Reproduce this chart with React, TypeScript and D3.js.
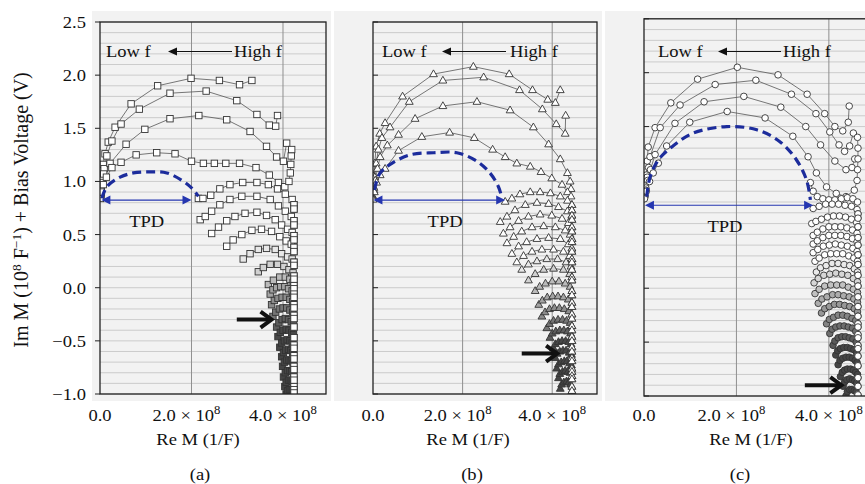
import React from 'react';
import * as d3 from 'd3';

type Pt = [number, number];

// Re M in units of 1e8 1/F, Im M (1e8 1/F) + bias in V

// ---------- panel (a), square markers ----------
const aUpper: Pt[][] = [
  [[0.02,0.88],[0.03,0.97],[0.04,1.06],[0.07,1.16],[0.11,1.26],[0.18,1.37],[0.33,1.51],[0.68,1.73],[1.26,1.90],[1.99,1.97],[2.61,1.95],[3.05,1.91],[3.32,1.95]],
  [[0.02,0.86],[0.03,0.94],[0.05,1.02],[0.09,1.12],[0.15,1.24],[0.26,1.38],[0.46,1.54],[0.86,1.68],[1.53,1.83],[2.32,1.85],[2.99,1.76],[3.43,1.63],[3.70,1.53],[3.84,1.52],[3.88,1.62]],
  [[0.01,0.85],[0.02,0.92],[0.04,0.99],[0.08,1.07],[0.22,1.17],[0.57,1.35],[0.98,1.49],[1.53,1.59],[2.16,1.62],[2.77,1.58],[3.28,1.47],[3.64,1.33],[3.86,1.23],[4.01,1.19],[4.08,1.36]],
  [[0.01,0.84],[0.03,0.90],[0.07,0.97],[0.14,1.04],[0.26,1.13],[0.46,1.18],[0.79,1.25],[1.24,1.27],[1.64,1.26],[2.0,1.19],[2.26,1.17],[2.5,1.17],[2.75,1.17],[3.05,1.17],[3.41,1.13],[3.70,1.06],[3.90,0.99],[4.04,0.95],[4.13,1.0],[4.16,1.08],[4.17,1.16],[4.18,1.24],[4.19,1.30]],
];
const aLower: Pt[][] = [
  [[2.15,0.84],[2.25,0.84],[2.42,0.87],[2.62,0.93],[2.84,0.97],[3.12,0.99],[3.43,0.99],[3.68,0.97],[3.88,0.93],[4.05,0.88],[4.2,0.83],[4.24,0.78],[4.24,0.74]],
  [[2.19,0.64],[2.30,0.67],[2.44,0.72],[2.62,0.78],[2.84,0.83],[3.10,0.86],[3.43,0.86],[3.72,0.83],[3.90,0.77],[4.05,0.72],[4.18,0.67],[4.24,0.63],[4.24,0.59]],
  [[2.44,0.51],[2.59,0.57],[2.77,0.63],[2.95,0.67],[3.17,0.70],[3.43,0.71],[3.64,0.68],[3.83,0.64],[3.97,0.59],[4.1,0.55],[4.2,0.52],[4.24,0.49],[4.24,0.45]],
  [[2.77,0.39],[2.91,0.45],[3.10,0.50],[3.32,0.54],[3.53,0.55],[3.75,0.53],[3.93,0.48],[4.07,0.44],[4.18,0.41],[4.24,0.38],[4.24,0.34]],
  [[3.13,0.27],[3.28,0.32],[3.46,0.36],[3.64,0.37],[3.83,0.36],[3.97,0.32],[4.1,0.29],[4.2,0.27],[4.24,0.24],[4.24,0.21]],
  [[3.46,0.15],[3.57,0.19],[3.72,0.22],[3.88,0.22],[4.02,0.20],[4.13,0.17],[4.22,0.14],[4.24,0.11],[4.24,0.08]],
  [[3.68,0.03],[3.79,0.07],[3.93,0.10],[4.05,0.10],[4.15,0.08],[4.22,0.05],[4.24,0.02],[4.24,-0.01]],
  [[3.72,-0.06],[3.78,-0.02],[3.86,0.00],[3.95,0.01],[4.04,0.01],[4.12,-0.01],[4.2,-0.03],[4.24,-0.06],[4.24,-0.09]],
  [[3.75,-0.16],[3.81,-0.12],[3.89,-0.10],[3.98,-0.09],[4.07,-0.09],[4.15,-0.11],[4.21,-0.13],[4.24,-0.16],[4.24,-0.19]],
  [[3.78,-0.27],[3.84,-0.23],[3.92,-0.20],[4.0,-0.19],[4.08,-0.19],[4.15,-0.21],[4.21,-0.23],[4.24,-0.26],[4.24,-0.29]],
  [[3.86,-0.37],[3.91,-0.33],[3.98,-0.30],[4.05,-0.29],[4.12,-0.30],[4.18,-0.32],[4.23,-0.34],[4.24,-0.37]],
  [[3.89,-0.46],[3.94,-0.42],[4.0,-0.40],[4.07,-0.39],[4.13,-0.40],[4.19,-0.42],[4.23,-0.44],[4.24,-0.47]],
  [[3.93,-0.56],[3.97,-0.52],[4.03,-0.50],[4.09,-0.49],[4.15,-0.50],[4.2,-0.52],[4.24,-0.54],[4.24,-0.57]],
  [[3.97,-0.65],[4.01,-0.61],[4.06,-0.59],[4.12,-0.58],[4.17,-0.59],[4.21,-0.61],[4.24,-0.64],[4.24,-0.67]],
  [[3.99,-0.74],[4.03,-0.70],[4.08,-0.68],[4.13,-0.68],[4.18,-0.69],[4.22,-0.71],[4.24,-0.74],[4.24,-0.77]],
  [[4.01,-0.84],[4.05,-0.80],[4.1,-0.78],[4.15,-0.78],[4.19,-0.79],[4.23,-0.81],[4.24,-0.84],[4.24,-0.87]],
  [[4.04,-0.93],[4.07,-0.89],[4.12,-0.87],[4.16,-0.87],[4.2,-0.88],[4.23,-0.90],[4.24,-0.93],[4.24,-0.96]],
  [[4.07,-1.0],[4.1,-0.97],[4.14,-0.96],[4.18,-0.96],[4.22,-0.97],[4.24,-0.99]],
];
const aTpdArc: Pt[] = [[0.04,0.84],[0.15,0.95],[0.44,1.04],[0.73,1.08],[1.09,1.09],[1.46,1.08],[1.79,1.01],[2.0,0.94],[2.15,0.86]];
const aTpdSpan = [0.03, 2.0, 0.825];

// ---------- panel (b), triangle markers ----------
const bUpper: Pt[][] = [
  [[0.0,0.86],[0.01,0.95],[0.02,1.05],[0.04,1.17],[0.07,1.33],[0.15,1.45],[0.27,1.55],[0.66,1.80],[1.35,2.01],[2.24,2.08],[3.04,2.01],[3.56,1.86],[3.90,1.77],[4.07,1.74],[4.18,1.86]],
  [[0.0,0.85],[0.02,0.94],[0.04,1.04],[0.07,1.17],[0.12,1.30],[0.2,1.41],[0.38,1.51],[0.81,1.75],[1.56,1.95],[2.47,1.98],[3.27,1.86],[3.78,1.68],[4.09,1.54],[4.29,1.45],[4.30,1.62]],
  [[0.0,0.84],[0.02,0.92],[0.05,1.01],[0.1,1.12],[0.16,1.23],[0.32,1.34],[0.57,1.44],[0.94,1.59],[1.56,1.71],[2.32,1.75],[3.06,1.67],[3.58,1.51],[3.92,1.35],[4.18,1.21],[4.34,1.08],[4.4,1.0],[4.42,0.93]],
  [[0.0,0.83],[0.03,0.90],[0.08,0.99],[0.16,1.06],[0.27,1.12],[0.57,1.29],[1.09,1.42],[1.71,1.46],[2.26,1.41],[2.67,1.30],[2.95,1.23],[3.21,1.17],[3.51,1.14],[3.75,1.09],[3.99,1.03],[4.22,0.97],[4.34,0.90],[4.42,0.86]],
];
const bLower: Pt[][] = [
  [[2.95,0.81],[3.10,0.84],[3.28,0.88],[3.51,0.90],[3.73,0.90],[3.96,0.89],[4.18,0.86],[4.34,0.82],[4.44,0.78],[4.44,0.73]],
  [[2.84,0.62],[2.99,0.67],[3.17,0.73],[3.40,0.78],[3.66,0.80],[3.92,0.79],[4.14,0.76],[4.34,0.72],[4.44,0.68],[4.44,0.64]],
  [[2.91,0.51],[3.06,0.57],[3.25,0.63],[3.47,0.67],[3.73,0.69],[3.99,0.68],[4.22,0.65],[4.36,0.61],[4.44,0.57],[4.44,0.53]],
  [[2.99,0.42],[3.14,0.48],[3.32,0.53],[3.55,0.57],[3.81,0.58],[4.07,0.57],[4.29,0.54],[4.40,0.50],[4.44,0.46],[4.44,0.43]],
  [[3.10,0.32],[3.25,0.39],[3.43,0.43],[3.66,0.46],[3.92,0.47],[4.18,0.46],[4.36,0.41],[4.44,0.37],[4.44,0.34]],
  [[3.21,0.24],[3.36,0.30],[3.55,0.34],[3.77,0.36],[4.03,0.36],[4.25,0.34],[4.39,0.30],[4.44,0.27],[4.44,0.24]],
  [[3.32,0.17],[3.47,0.22],[3.66,0.25],[3.88,0.27],[4.12,0.27],[4.31,0.24],[4.42,0.20],[4.44,0.17]],
  [[3.47,0.07],[3.62,0.13],[3.81,0.17],[4.03,0.18],[4.25,0.17],[4.39,0.13],[4.44,0.10],[4.44,0.07]],
  [[3.62,-0.03],[3.72,0.01],[3.85,0.04],[4.0,0.06],[4.15,0.06],[4.29,0.04],[4.40,0.01],[4.44,-0.03],[4.44,-0.07]],
  [[3.70,-0.16],[3.78,-0.12],[3.89,-0.09],[4.01,-0.08],[4.13,-0.08],[4.25,-0.09],[4.36,-0.11],[4.44,-0.14],[4.44,-0.18]],
  [[3.77,-0.27],[3.84,-0.23],[3.94,-0.20],[4.05,-0.19],[4.16,-0.19],[4.27,-0.20],[4.37,-0.22],[4.44,-0.25],[4.44,-0.29]],
  [[3.88,-0.38],[3.94,-0.34],[4.03,-0.31],[4.13,-0.30],[4.23,-0.30],[4.32,-0.31],[4.40,-0.33],[4.44,-0.36],[4.44,-0.40]],
  [[3.95,-0.47],[4.0,-0.43],[4.08,-0.41],[4.17,-0.40],[4.26,-0.40],[4.34,-0.41],[4.41,-0.43],[4.44,-0.46],[4.44,-0.50]],
  [[4.03,-0.57],[4.07,-0.53],[4.14,-0.51],[4.22,-0.50],[4.30,-0.50],[4.37,-0.51],[4.42,-0.53],[4.44,-0.56],[4.44,-0.60]],
  [[4.07,-0.66],[4.11,-0.62],[4.17,-0.60],[4.24,-0.59],[4.31,-0.59],[4.38,-0.61],[4.43,-0.63],[4.44,-0.66],[4.44,-0.69]],
  [[4.10,-0.76],[4.14,-0.72],[4.20,-0.70],[4.27,-0.69],[4.33,-0.69],[4.39,-0.71],[4.43,-0.73],[4.44,-0.76],[4.44,-0.79]],
  [[4.14,-0.85],[4.17,-0.81],[4.23,-0.79],[4.29,-0.78],[4.35,-0.79],[4.40,-0.80],[4.44,-0.83],[4.44,-0.86]],
  [[4.18,-0.95],[4.21,-0.91],[4.26,-0.89],[4.32,-0.88],[4.37,-0.89],[4.41,-0.91],[4.44,-0.93],[4.44,-0.97]],
];
const bTpdArc: Pt[] = [[0.03,0.92],[0.16,1.08],[0.42,1.17],[0.83,1.25],[1.35,1.27],[1.87,1.27],[2.32,1.19],[2.61,1.08],[2.80,0.95],[2.88,0.84]];
const bTpdSpan = [0.01, 2.95, 0.825];

// ---------- panel (c), circle markers ----------
const cUpper: Pt[][] = [
  [[0.02,0.86],[0.03,0.95],[0.05,1.05],[0.07,1.18],[0.09,1.31],[0.24,1.49],[0.58,1.72],[1.16,1.94],[2.02,2.05],[2.90,1.98],[3.53,1.80],[3.91,1.62],[4.13,1.50],[4.30,1.46],[4.42,1.54],[4.44,1.69]],
  [[0.02,0.85],[0.04,0.93],[0.07,1.03],[0.1,1.12],[0.13,1.22],[0.35,1.49],[0.78,1.70],[1.54,1.89],[2.42,1.93],[3.19,1.80],[3.72,1.62],[4.02,1.45],[4.22,1.33],[4.34,1.27],[4.45,1.32],[4.53,1.44]],
  [[0.01,0.84],[0.04,0.91],[0.08,1.0],[0.14,1.1],[0.24,1.24],[0.67,1.53],[1.30,1.73],[2.16,1.78],[2.96,1.68],[3.50,1.50],[3.82,1.33],[4.13,1.18],[4.37,1.10],[4.5,1.12],[4.56,1.2]],
  [[0.01,0.83],[0.05,0.9],[0.12,0.99],[0.2,1.07],[0.31,1.16],[0.49,1.32],[0.99,1.54],[1.80,1.64],[2.62,1.58],[3.22,1.41],[3.55,1.22],[3.73,1.07],[3.95,0.94],[4.16,0.88],[4.37,0.85],[4.55,0.91],[4.61,1.0],[4.62,1.1],[4.63,1.2],[4.63,1.3],[4.62,1.4]],
];
const cLower: Pt[][] = [
  [[3.60,0.98],[3.66,0.90],[3.75,0.85],[3.87,0.83],[4.0,0.82],[4.13,0.82],[4.27,0.83],[4.40,0.84],[4.52,0.83],[4.62,0.80]],
  [[3.66,0.74],[3.79,0.76],[3.93,0.78],[4.07,0.78],[4.21,0.78],[4.35,0.77],[4.49,0.76],[4.61,0.73],[4.63,0.69],[4.63,0.65]],
  [[3.63,0.60],[3.72,0.62],[3.84,0.64],[3.97,0.66],[4.10,0.67],[4.23,0.67],[4.36,0.66],[4.49,0.64],[4.6,0.61],[4.63,0.57]],
  [[3.66,0.49],[3.75,0.52],[3.87,0.55],[4.0,0.57],[4.13,0.57],[4.26,0.57],[4.39,0.56],[4.51,0.54],[4.61,0.51],[4.63,0.47]],
  [[3.66,0.41],[3.75,0.44],[3.87,0.47],[4.0,0.49],[4.13,0.49],[4.26,0.49],[4.39,0.48],[4.51,0.46],[4.61,0.43],[4.63,0.40]],
  [[3.66,0.33],[3.76,0.36],[3.88,0.39],[4.01,0.40],[4.14,0.41],[4.27,0.40],[4.4,0.39],[4.52,0.37],[4.61,0.34],[4.63,0.31]],
  [[3.70,0.25],[3.79,0.28],[3.91,0.31],[4.04,0.32],[4.17,0.32],[4.3,0.32],[4.43,0.30],[4.54,0.28],[4.62,0.25],[4.63,0.22]],
  [[3.73,0.15],[3.82,0.19],[3.94,0.21],[4.07,0.23],[4.2,0.23],[4.33,0.22],[4.45,0.21],[4.55,0.18],[4.62,0.15],[4.63,0.12]],
  [[3.68,0.05],[3.77,0.09],[3.89,0.12],[4.02,0.13],[4.15,0.14],[4.28,0.13],[4.41,0.12],[4.53,0.09],[4.62,0.06],[4.63,0.02]],
  [[3.70,-0.05],[3.79,-0.01],[3.91,0.02],[4.04,0.03],[4.17,0.03],[4.30,0.03],[4.42,0.01],[4.53,-0.01],[4.62,-0.04],[4.63,-0.08]],
  [[3.77,-0.14],[3.85,-0.10],[3.96,-0.08],[4.08,-0.06],[4.2,-0.06],[4.32,-0.07],[4.44,-0.08],[4.54,-0.10],[4.62,-0.13],[4.63,-0.17]],
  [[3.84,-0.23],[3.91,-0.19],[4.01,-0.17],[4.12,-0.15],[4.23,-0.15],[4.34,-0.16],[4.45,-0.17],[4.55,-0.19],[4.62,-0.22],[4.63,-0.26]],
  [[3.95,-0.33],[4.01,-0.29],[4.10,-0.27],[4.20,-0.25],[4.30,-0.25],[4.40,-0.26],[4.50,-0.28],[4.58,-0.30],[4.63,-0.33],[4.63,-0.36]],
  [[4.02,-0.42],[4.07,-0.38],[4.15,-0.36],[4.24,-0.35],[4.33,-0.35],[4.42,-0.36],[4.51,-0.37],[4.58,-0.40],[4.63,-0.43],[4.63,-0.46]],
  [[4.09,-0.53],[4.13,-0.49],[4.20,-0.46],[4.28,-0.45],[4.36,-0.45],[4.44,-0.46],[4.52,-0.47],[4.59,-0.50],[4.63,-0.53],[4.63,-0.56]],
  [[4.15,-0.62],[4.19,-0.58],[4.25,-0.56],[4.32,-0.55],[4.40,-0.55],[4.47,-0.56],[4.54,-0.57],[4.6,-0.60],[4.63,-0.63]],
  [[4.20,-0.71],[4.24,-0.67],[4.30,-0.65],[4.37,-0.64],[4.44,-0.64],[4.51,-0.65],[4.57,-0.67],[4.61,-0.69],[4.63,-0.72]],
  [[4.25,-0.82],[4.29,-0.78],[4.34,-0.76],[4.40,-0.75],[4.47,-0.75],[4.53,-0.76],[4.58,-0.78],[4.62,-0.80],[4.63,-0.83]],
  [[4.31,-0.91],[4.34,-0.87],[4.39,-0.85],[4.45,-0.84],[4.51,-0.85],[4.56,-0.86],[4.6,-0.88],[4.63,-0.91]],
  [[4.37,-1.0],[4.40,-0.96],[4.45,-0.94],[4.50,-0.94],[4.55,-0.95],[4.59,-0.96],[4.63,-0.99]],
];
const cTpdArc: Pt[] = [[0.06,0.85],[0.13,1.03],[0.31,1.19],[0.60,1.31],[1.07,1.44],[1.79,1.50],[2.44,1.47],[2.94,1.36],[3.30,1.19],[3.52,1.00],[3.60,0.82]];
const cTpdSpan = [0.02, 3.66, 0.77];

// ---------- axes ----------
const yTicks = [-1, -0.5, 0, 0.5, 1, 1.5, 2, 2.5];
const yTickLabels = ['−1.0', '−0.5', '0.0', '0.5', '1.0', '1.5', '2.0', '2.5'];
const xTicks = [0, 2, 4];
const xTickLabels = ['0.0', '2.0 × 10', '4.0 × 10'];

const SERIF = 'Liberation Serif';
const BLUE = '#1c2c9c';

const Txt = ({ x, y, anchor = 'start', size = 17.5, children }: any) => (
  <text transform={`translate(${x},${y}) scale(1.06,1)`} textAnchor={anchor}
    fontSize={size} fontFamily={SERIF} fill="#111">{children}</text>
);

const Marker = ({ kind, x, y, fill }: any) => {
  if (kind === 'square') return <rect x={x - 3.2} y={y - 3.2} width={6.4} height={6.4} fill={fill} stroke="#333" strokeWidth={0.9} />;
  if (kind === 'triangle') return <path d={`M${x},${y - 4.2}L${x + 3.9},${y + 2.6}L${x - 3.9},${y + 2.6}Z`} fill={fill} stroke="#333" strokeWidth={0.9} />;
  return <circle cx={x} cy={y} r={3.3} fill={fill} stroke="#333" strokeWidth={0.9} />;
};

const Panel = ({ cfg, upper, lower, tpdArc, tpdSpan, kind, showY }: any) => {
  const x = d3.scaleLinear().domain([0, cfg.xMax]).range([cfg.left, cfg.right]);
  const y = d3.scaleLinear().domain([-1, 2.5]).range([cfg.bottom, cfg.top]);
  const line = d3.line<Pt>().x((d) => x(d[0])).y((d) => y(d[1]));
  const smooth = d3.line<Pt>().x((d) => x(d[0])).y((d) => y(d[1])).curve(d3.curveCatmullRom);
  const grid = y.ticks(35);
  const clipId = `clip-${cfg.id}`;
  const n = lower.length;
  const shade = (i: number) => {
    const t = Math.max(0, Math.min(1, (i - cfg.lightArcs) / (n * 0.45)));
    return d3.interpolateRgb('#ffffff', '#454545')(t);
  };
  const isCol = (p: Pt) => p[0] >= cfg.col - 0.005;
  const ty = y(tpdSpan[2]);
  const tx1 = x(tpdSpan[0]);
  const tx2 = x(tpdSpan[1]);
  const ar = cfg.arrow;
  const ay = y(ar[2]);
  const ax1 = x(ar[0]);
  const ax2 = x(ar[1]);
  return (
    <g>
      <defs>
        <clipPath id={clipId}>
          <rect x={cfg.left} y={cfg.top} width={cfg.right - cfg.left} height={cfg.bottom - cfg.top} />
        </clipPath>
      </defs>
      <rect x={cfg.bg[0]} y={11} width={cfg.bg[1] - cfg.bg[0]} height={390} fill="#f2f2f2" />
      {grid.map((g) => (
        <line key={g} x1={cfg.left} x2={cfg.right} y1={y(g)} y2={y(g)} stroke="#c2c2c2" strokeWidth={0.8} />
      ))}
      {xTicks.slice(1).map((t) => (
        <line key={t} x1={x(t)} x2={x(t)} y1={cfg.top} y2={cfg.bottom} stroke="#8f8f8f" strokeWidth={1} />
      ))}
      {yTicks.map((t) => (
        <line key={t} x1={showY ? cfg.left - 5 : cfg.left} x2={showY ? cfg.left : cfg.left + 5} y1={y(t)} y2={y(t)} stroke="#222" strokeWidth={1} />
      ))}
      <g clipPath={`url(#${clipId})`}>
        {upper.map((arc: Pt[], i: number) => (
          <path key={i} d={line(arc) || ''} fill="none" stroke="#555" strokeWidth={0.8} />
        ))}
        {upper.map((arc: Pt[], i: number) => arc.map((p, j) => (
          <Marker key={`u${i}-${j}`} kind={kind} x={x(p[0])} y={y(p[1])} fill="#fff" />
        )))}
        {lower.map((arc: Pt[], i: number) => (
          <g key={`l${i}`}>
            <path d={line(arc) || ''} fill="none" stroke="#444" strokeWidth={0.8} />
            {arc.map((p, j) => (
              <Marker key={j} kind={kind} x={x(p[0])} y={y(p[1])} fill={isCol(p) ? '#fff' : shade(i)} />
            ))}
          </g>
        ))}
        {lower.map((arc: Pt[], i: number) => arc.filter(isCol).map((p, j) => (
          <Marker key={`c${i}-${j}`} kind={kind} x={x(p[0])} y={y(p[1])} fill="#fff" />
        )))}
        <path d={smooth(tpdArc) || ''} fill="none" stroke={BLUE} strokeWidth={3.2} strokeDasharray="9,5" />
        <line x1={tx1 + 6} x2={tx2 - 6} y1={ty} y2={ty} stroke="#2536b0" strokeWidth={1.2} />
        <path d={`M${tx1},${ty}L${tx1 + 9},${ty - 4.5}L${tx1 + 9},${ty + 4.5}Z`} fill="#2536b0" />
        <path d={`M${tx2},${ty}L${tx2 - 9},${ty - 4.5}L${tx2 - 9},${ty + 4.5}Z`} fill="#2536b0" />
      </g>
      <rect x={cfg.left} y={cfg.top} width={cfg.right - cfg.left} height={cfg.bottom - cfg.top} fill="none" stroke="#222" strokeWidth={1.3} />
      {/* Low f <- High f */}
      <Txt x={cfg.lowF} y={57}>Low f</Txt>
      <line x1={cfg.fArrow[0]} x2={cfg.fArrow[1] + 6} y1={51.5} y2={51.5} stroke="#111" strokeWidth={1.2} />
      <path d={`M${cfg.fArrow[1]},51.5L${cfg.fArrow[1] + 9},47.5L${cfg.fArrow[1] + 9},55.5Z`} fill="#111" />
      <Txt x={cfg.highF} y={57}>High f</Txt>
      <Txt x={x(cfg.tpdLabel[0])} y={y(cfg.tpdLabel[1])} anchor="middle">TPD</Txt>
      {/* bold arrow */}
      <line x1={ax1} x2={ax2 - 3} y1={ay} y2={ay} stroke="#111" strokeWidth={4} />
      <polyline points={`${ax2 - 11},${ay - 8} ${ax2},${ay} ${ax2 - 11},${ay + 8}`} fill="none" stroke="#111" strokeWidth={4} strokeLinejoin="miter" />
      {/* axes labels */}
      {showY && yTicks.map((t, i) => (
        <Txt key={t} x={86} y={y(t) + 6} anchor="end">{yTickLabels[i]}</Txt>
      ))}
      {xTicks.map((t, i) => (
        <Txt key={t} x={x(t) + (i === 1 ? -5 : 0)} y={421} anchor="middle">
          {xTickLabels[i]}
          {i > 0 && <tspan dy={-7} fontSize={12}>8</tspan>}
        </Txt>
      ))}
      <Txt x={cfg.titleX} y={445} anchor="middle">Re M (1/F)</Txt>
      <Txt x={cfg.capX} y={480} anchor="middle">{cfg.caption}</Txt>
    </g>
  );
};

const panelA = { id: 'a', left: 100, right: 326, xMax: 4.94, top: 22, bottom: 394, bg: [92, 331], col: 4.24, lightArcs: 3,
  lowF: 106, fArrow: [232, 168], highF: 234, tpdLabel: [1.02, 0.57], arrow: [2.99, 3.75, -0.30], titleX: 198, capX: 200, caption: '(a)' };
const panelB = { id: 'b', left: 373, right: 597, xMax: 5.0, top: 22, bottom: 394, bg: [334, 602], col: 4.44, lightArcs: 5,
  lowF: 382, fArrow: [506, 442], highF: 510, tpdLabel: [1.61, 0.57], arrow: [3.32, 4.11, -0.62], titleX: 468, capX: 472, caption: '(b)' };
const panelC = { id: 'c', left: 644, right: 870, xMax: 4.89, top: 18.8, bottom: 396, bg: [605, 866], col: 4.63, lightArcs: 6,
  lowF: 658, fArrow: [781, 718], highF: 783, tpdLabel: [1.75, 0.52], arrow: [3.48, 4.27, -0.90], titleX: 751, capX: 740, caption: '(c)' };

export default function App() {
  return (
    <svg width={865} height={484} style={{ position: 'absolute', left: 0, top: 0, background: '#fff' }}>
      <rect width={865} height={484} fill="#fff" />
      <Panel cfg={panelA} upper={aUpper} lower={aLower} tpdArc={aTpdArc} tpdSpan={aTpdSpan} kind="square" showY />
      <Panel cfg={panelB} upper={bUpper} lower={bLower} tpdArc={bTpdArc} tpdSpan={bTpdSpan} kind="triangle" />
      <Panel cfg={panelC} upper={cUpper} lower={cLower} tpdArc={cTpdArc} tpdSpan={cTpdSpan} kind="circle" />
      <text transform="translate(28,210) rotate(-90)" textAnchor="middle" fontSize={20} fontFamily={SERIF} fill="#111">
        Im M (10<tspan dy={-7} fontSize={13.5}>8</tspan><tspan dy={7}> F</tspan><tspan dy={-7} fontSize={13.5}>−1</tspan><tspan dy={7}>) + Bias Voltage (V)</tspan>
      </text>
    </svg>
  );
}
